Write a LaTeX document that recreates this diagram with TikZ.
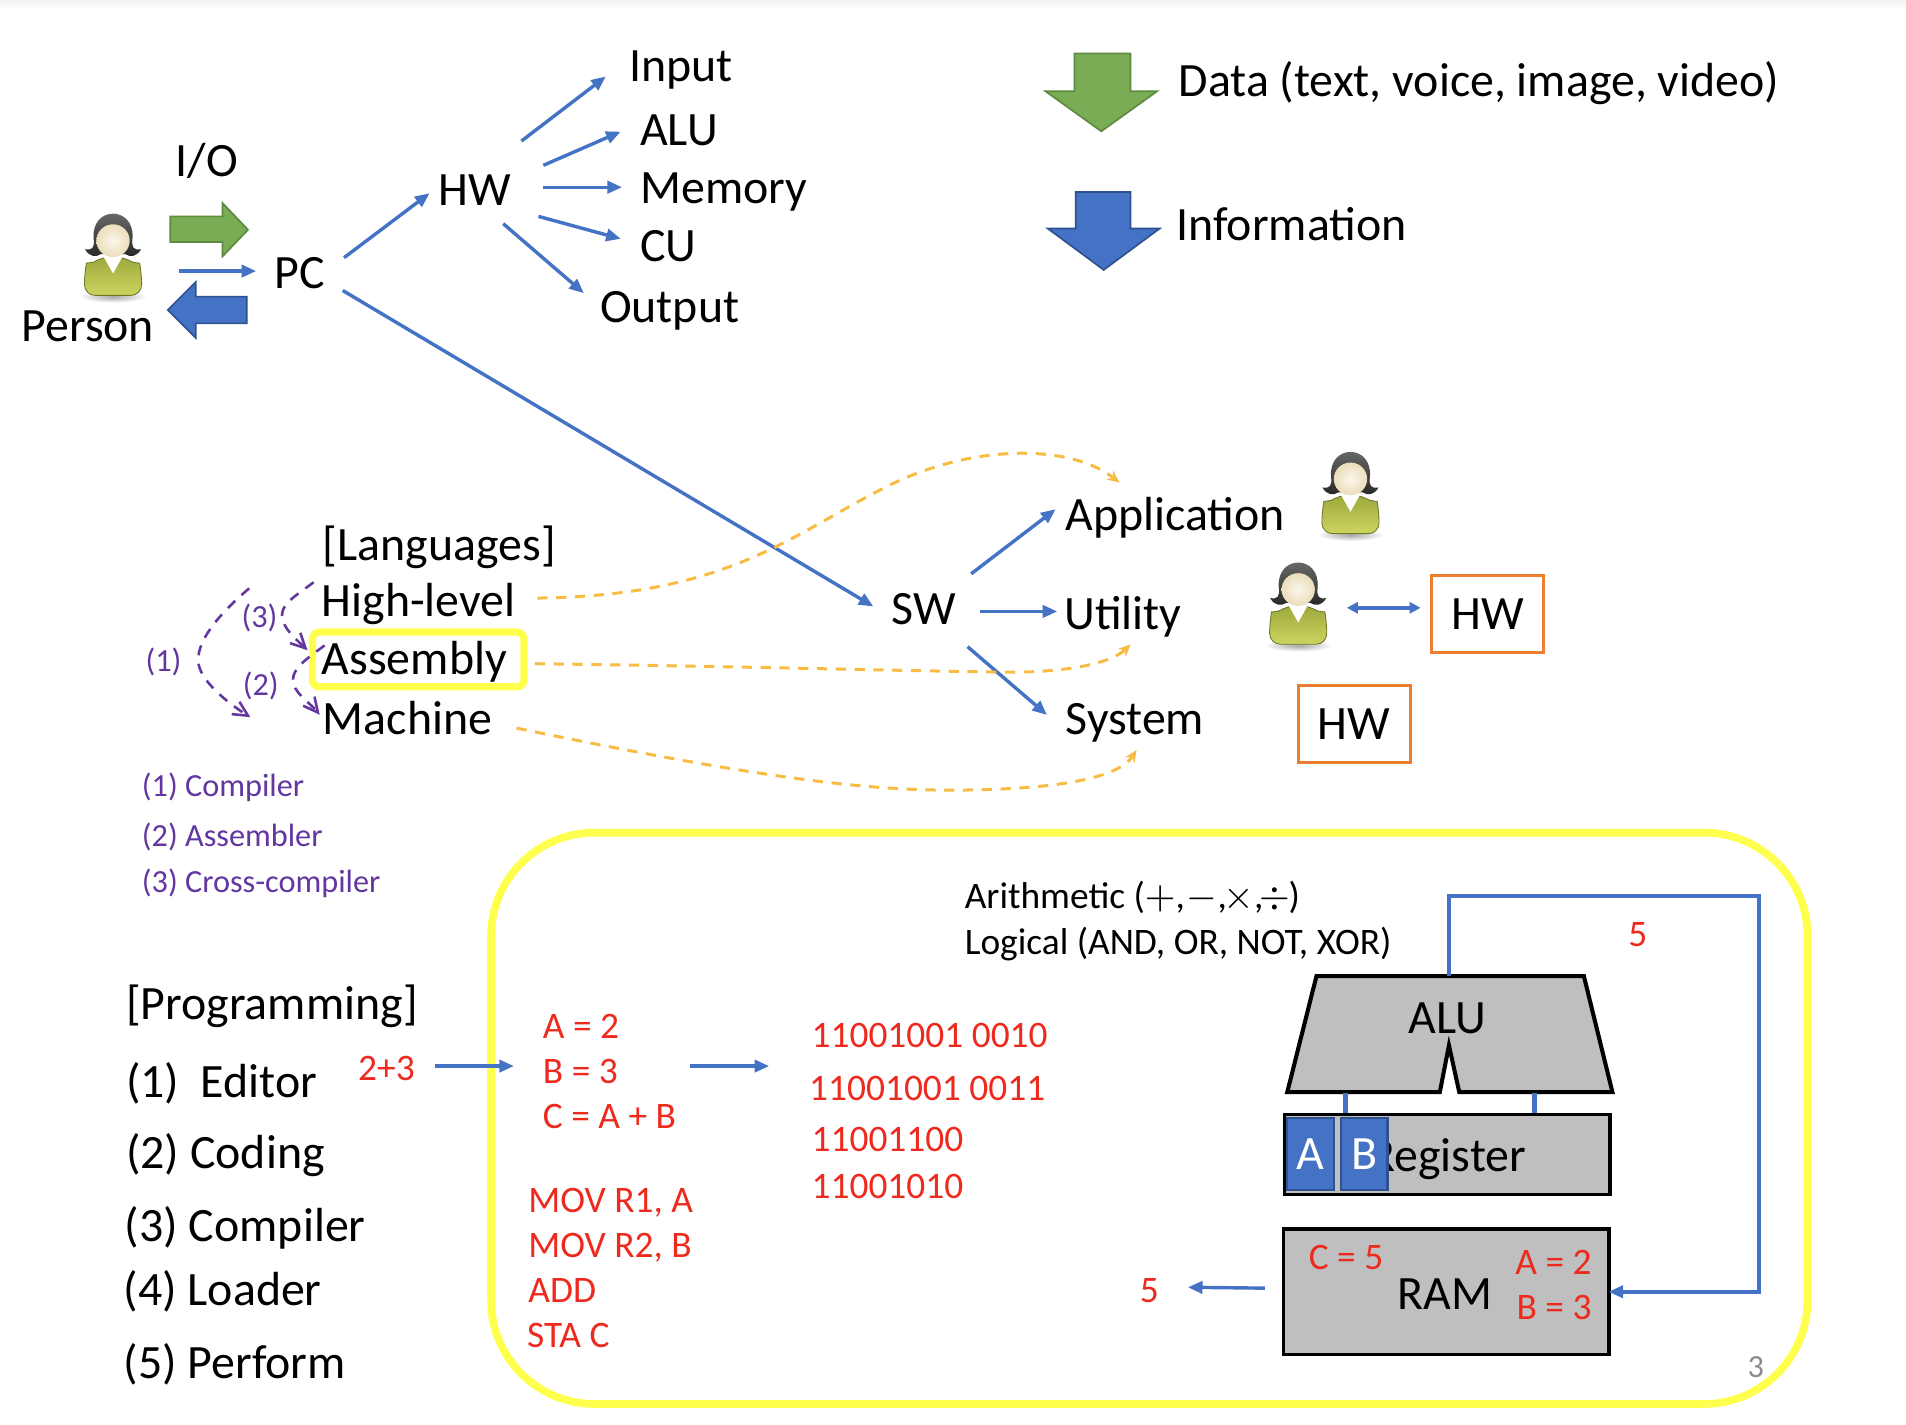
\documentclass[tikz,border=0pt]{standalone}
\usepackage{fontspec}
\setmainfont{Carlito}
\usetikzlibrary{arrows.meta}
\definecolor{linkblue}{HTML}{4472C4}
\definecolor{darkblue}{HTML}{2F528F}
\definecolor{arrowgreen}{HTML}{7AAB55}
\definecolor{darkgreen}{HTML}{5E8C3F}
\definecolor{purp}{HTML}{6336A0}
\definecolor{dashorange}{HTML}{F8BC45}
\definecolor{boxorange}{HTML}{ED7D31}
\definecolor{brightyellow}{HTML}{FFFF4D}
\definecolor{redtxt}{HTML}{EE2A1E}
\definecolor{boxgray}{HTML}{BFBFBF}
\definecolor{shirttop}{HTML}{9DA83C}
\definecolor{shirtlow}{HTML}{CDD560}
\definecolor{facein}{HTML}{FBF7EA}
\definecolor{faceout}{HTML}{EBDDBB}
\tikzset{
  person/.pic={
    \shade[inner color=black!35,outer color=white] (0,32) ellipse (28 and 5);
    \draw[draw=shirttop!70!black,line width=0.2pt,top color=shirttop,bottom color=shirtlow,rounded corners=2.5pt]
      (-23.5,31) -- (-23.5,13) .. controls (-22,5) and (-15,3) .. (-9,-1) -- (9,-1) .. controls (15,3) and (22,5) .. (23.5,13) -- (23.5,31) -- cycle;
    \fill[white] (-9,-3) -- (9,-3) -- (0,13) -- cycle;
    \shade[top color=black!55,bottom color=black!85] (16,-16) .. controls (15,-8) and (17,-6) .. (23,-7) .. controls (20,-1) and (14,0) .. (10,-3) -- (-10,-3) .. controls (-14,0) and (-20,-1) .. (-23,-7) .. controls (-17,-6) and (-15,-8) .. (-16,-16) .. controls (-18,-43) and (18,-43) .. (16,-16) -- cycle;
    \shade[inner color=facein,outer color=faceout] (0,-14) ellipse (13.7 and 13.5);
  }
}
\begin{document}
\begin{tikzpicture}
        [
          x=0.01cm, y=-0.01cm,
          txt/.style={inner sep=0pt,anchor=west,text height=0.64em,text depth=0pt},
          big/.style={txt,text height=0.74em,xshift=-0.01cm,font=\fontsize{11.2}{13}\selectfont},
          mid/.style={txt,text height=0.6em,font=\fontsize{8.75}{11}\selectfont},
          small/.style={txt,text height=0.52em,font=\fontsize{7.55}{10}\selectfont},
          purpsm/.style={small,text=purp},
          link/.style={linkblue,line width=0.8pt,shorten >=-0.5pt,-{Triangle[length=0.12cm,width=0.1cm]}},
          dashlink/.style={dashorange,line width=0.7pt,dash pattern=on 2.4pt off 2pt,-{Stealth[length=0.1cm,width=0.09cm]}},
          compile/.style={purp,line width=0.6pt,dash pattern=on 2.4pt off 2pt,-{Straight Barb[length=0.12cm,width=0.12cm]}},
          graybox/.style={draw=black,fill=boxgray,inner sep=0pt,line width=0.75pt},
          regbox/.style={draw=darkblue,fill=linkblue,inner sep=0pt,line width=0.5pt,text=white,font=\fontsize{11.2}{13}\selectfont,minimum width=0.385cm,minimum height=0.595cm},
          hwbox/.style={draw=boxorange,line width=0.7pt,inner sep=0pt,font=\fontsize{11.2}{13}\selectfont,minimum width=0.92cm,minimum height=0.635cm}
        ]
        \useasboundingbox (0,0) rectangle (1568,1171.5);
        \shade[top color=black!5,bottom color=white] (0,0) rectangle (1568,8);
        % legend
        \draw[fill=arrowgreen,draw=darkgreen,line width=0.4pt] (884,44) -- (930,44) -- (930,75) -- (952,75) -- (906,108) -- (860,75) -- (884,75) -- cycle;
        \draw[fill=linkblue,draw=darkblue,line width=0.4pt] (885,158) -- (930,158) -- (930,188) -- (954,188) -- (908,222) -- (862,188) -- (885,188) -- cycle;
        \node [big] (data) at (970,66) {Data (text, voice, image, video)};
        \node [big] (info) at (968,185) {Information};
        % person and pc
        \pic at (93,212) {person};
        \node [big] (person) at (18,268) {Person};
        \node [big] (io) at (145,132) {I/O};
        \node [big] (pc) at (226,224) {PC};
        \draw[fill=arrowgreen,draw=darkgreen,line width=0.4pt] (140,178) -- (183,178) -- (183,167) -- (204,189) -- (183,211) -- (183,199) -- (140,199) -- cycle;
        \draw[fill=linkblue,draw=darkblue,line width=0.4pt] (203,244) -- (161,244) -- (161,232) -- (138,255) -- (161,278) -- (161,266) -- (203,266) -- cycle;
        \coordinate (usr) at (147,223);
        \draw[link] (usr) -- ([xshift=-0.16cm]usr -| pc.west);
        % hw
        \node [big] (hw) at (361,156) {HW};
        \node [big] (input) at (518,54) {Input};
        \node [big] (alulbl) at (527,107) {ALU};
        \node [big] (mem) at (527,154) {Memory};
        \node [big] (cu) at (527,202) {CU};
        \node [big] (output) at (494,252) {Output};
        \draw[link] ([shift={(58,-12)}]pc.west) -- ([shift={(-8,4)}]hw.west);
        \draw[link] ([shift={(69,-40)}]hw.west) -- ([shift={(-20,10)}]input.west);
        \draw[link] ([shift={(87,-20)}]hw.west) -- ([shift={(-17,2)}]alulbl.west);
        \draw[link] ([shift={(87,-2)}]hw.west) -- ([xshift=-0.16cm]mem.west);
        \draw[link] ([shift={(83,22)}]hw.west) -- ([shift={(-17,-6)}]cu.west);
        \draw[link] ([shift={(54,28)}]hw.west) -- ([shift={(-14,-12)}]output.west);
        % sw
        \node [big] (sw) at (734,501) {SW};
        \node [big] (app) at (877,423) {Application};
        \node [big] (util) at (876,505) {Utility};
        \node [big] (sys) at (877,591) {System};
        \draw[link] ([shift={(57,15)}]pc.west) -- ([shift={(-16,-3)}]sw.west);
        \draw[link] ([shift={(66,-29)}]sw.west) -- ([shift={(-9,-3)}]app.west);
        \draw[link] ([shift={(73,2)}]sw.west) -- ([shift={(-7,-2)}]util.west);
        \draw[link] ([shift={(63,31)}]sw.west) -- ([shift={(-16,-4)}]sys.west);
        \pic at (1111,408) {person};
        \pic at (1068,499) {person};
        \coordinate (usr2) at (1108,500);
        \node [hwbox] (hw1) at (1224,505) {\raisebox{-0.55pt}{HW}};
        \node [hwbox] (hw2) at (1114,595.5) {\raisebox{-0.55pt}{HW}};
        \draw[linkblue,line width=0.8pt,{Triangle[length=0.09cm,width=0.09cm]}-{Triangle[length=0.09cm,width=0.09cm]}] (usr2) -- ([xshift=-0.08cm]hw1.west |- usr2);
        % languages
        \node [big] (lang) at (266,448) {[Languages]};
        \node [big] (high) at (265,494) {High-level};
        \node [big] (asm) at (265,542) {Assembly};
        \node [big] (mach) at (266,591) {Machine};
        \draw[brightyellow,line width=1.7pt,rounded corners=1.6pt] (257,520) rectangle (431,565);
        \coordinate (c1s) at (205,484);
        \coordinate (c1e) at (206,590);
        \coordinate (c3s) at (258,479);
        \coordinate (c3e) at (253,535);
        \coordinate (c2s) at (267,531);
        \coordinate (c2e) at (263,588);
        \draw[compile] (c1s) .. controls (178,507) and (163,527) .. (163,543) .. controls (163,560) and (190,580) .. (c1e);
        \draw[compile] (c3s) .. controls (245,489) and (232,496) .. (232,506) .. controls (232,517) and (245,527) .. (c3e);
        \draw[compile] (c2s) .. controls (255,540) and (241,549) .. (241,559) .. controls (241,570) and (255,578) .. (c2e);
        \node [purpsm] (n1) at (119,543) {(1)};
        \node [purpsm] (n3) at (198,507) {(3)};
        \node [purpsm] (n2) at (199,563) {(2)};
        \node [purpsm] (tool1) at (116,646) {(1) Compiler};
        \node [purpsm] (tool2) at (116,687) {(2) Assembler};
        \node [purpsm] (tool3) at (116,725) {(3) Cross-compiler};
        \draw[dashlink] ([shift={(178,-2)}]high.west) .. controls (600,490) and (650,440) .. (730,400) .. controls (800,365) and (880,365) .. ([shift={(45,-26)}]app.west);
        \draw[dashlink] ([shift={(176,4)}]asm.west) .. controls (600,548) and (750,552) .. (830,553) .. controls (880,553) and (915,545) .. ([shift={(55,25)}]util.west);
        \draw[dashlink] ([shift={(160,8)}]mach.west) .. controls (600,635) and (700,650) .. (780,650) .. controls (870,650) and (920,640) .. ([shift={(59,26)}]sys.west);
        % programming
        \node [big] (prog) at (104,826) {[Programming]};
        \foreach \n/\x/\y/\lbl in {1/104/890/{(1)\ \ Editor},2/104/948/{(2) Coding},3/103/1008/{(3) Compiler},4/102/1061/{(4) Loader},5/102/1121/{(5) Perform}} {
            \node [big] (step\n) at (\x,\y) {\lbl};
        }
        % cpu panel
        \draw[brightyellow,line width=1.8pt,rounded corners=0.85cm] (404,685) rectangle (1487,1155);
        \node [mid] (arith) at (793,737) {Arithmetic ($+$,\kern0.05em$-$,\kern-0.1em$\times$,\kern-0.1em$\div$\kern-0.05em)};
        \node [mid] (logic) at (793,775) {Logical (AND, OR, NOT, XOR)};
        \node [mid,text=redtxt] (sum) at (294,878) {2+3};
        \foreach \n/\x/\y/\lbl in {1/446/844/{A = 2},2/446/881/{B = 3},3/446/918/{C = A + B},4/434/987/{MOV R1, A},5/434/1024/{MOV R2, B},6/434/1061/ADD,7/433/1098/{STA C}} {
            \node [mid,text=redtxt] (src\n) at (\x,\y) {\lbl};
        }
        \foreach \n/\x/\y/\lbl in {1/667/851/{11001001 0010},2/665/895/{11001001 0011},3/667/937/11001100,4/667/975/11001010} {
            \node [mid,text=redtxt] (bin\n) at (\x,\y) {\lbl};
        }
        \draw[link] ([shift={(64,-1)}]sum.west) -- ([shift={(-25,-4)}]src2.west);
        \draw[link] ([shift={(122,-4)}]src2.west) -- ([shift={(-34,-18)}]bin2.west);
        % alu
        \coordinate (alutop) at (1192,803);
        \coordinate (alub1) at (1107,899);
        \coordinate (alub2) at (1262.5,899);
        \coordinate (loopne) at (1447,737);
        \draw[draw=black,fill=boxgray,line width=0.95pt] (1083,803) -- (1303,803) -- (1326.5,898.5) -- (1200.5,898.5) -- (1192,860) -- (1184.5,898.5) -- (1059,898.5) -- cycle;
        \node [big,anchor=center] (alu) at (1192,837) {ALU};
        \node [graybox,minimum width=2.675cm,minimum height=0.66cm] (reg) at (1190.7,949.6) {};
        \node [big,anchor=center,text depth=0.2em] (reglbl) at (1192,954) {Register};
        \node [regbox] (rega) at (1078.2,949.3) {\raisebox{-0.55pt}{A}};
        \node [regbox] (regb) at (1122.2,949.3) {\raisebox{-0.55pt}{B}};
        \draw[linkblue,line width=1.1pt] (alub1) -- (alub1 |- reg.north);
        \draw[linkblue,line width=1.1pt] (alub2) -- (alub2 |- reg.north);
        \node [graybox,minimum width=2.677cm,minimum height=1.034cm] (ram) at (1189.8,1062.7) {};
        \node [big,anchor=center] (ramlbl) at (1190,1064) {RAM};
        \node [mid,text=redtxt] (memc) at (1076,1034) {C = 5};
        \node [mid,text=redtxt] (mema) at (1246,1038) {A = 2};
        \node [mid,text=redtxt] (memb) at (1247,1075) {B = 3};
        \draw[link] (alutop) |- (loopne) |- (ram.east);
        \node [mid,text=redtxt] (five) at (1339,768) {5};
        \node [mid,text=redtxt] (out) at (937,1061) {5};
        \draw[link] ([shift={(-14,-3)}]ram.west) -- ([shift={(42,-2)}]out.west);
        \node [small,text=black!45] (pageno) at (1437,1124) {3};
\end{tikzpicture}
\end{document}
